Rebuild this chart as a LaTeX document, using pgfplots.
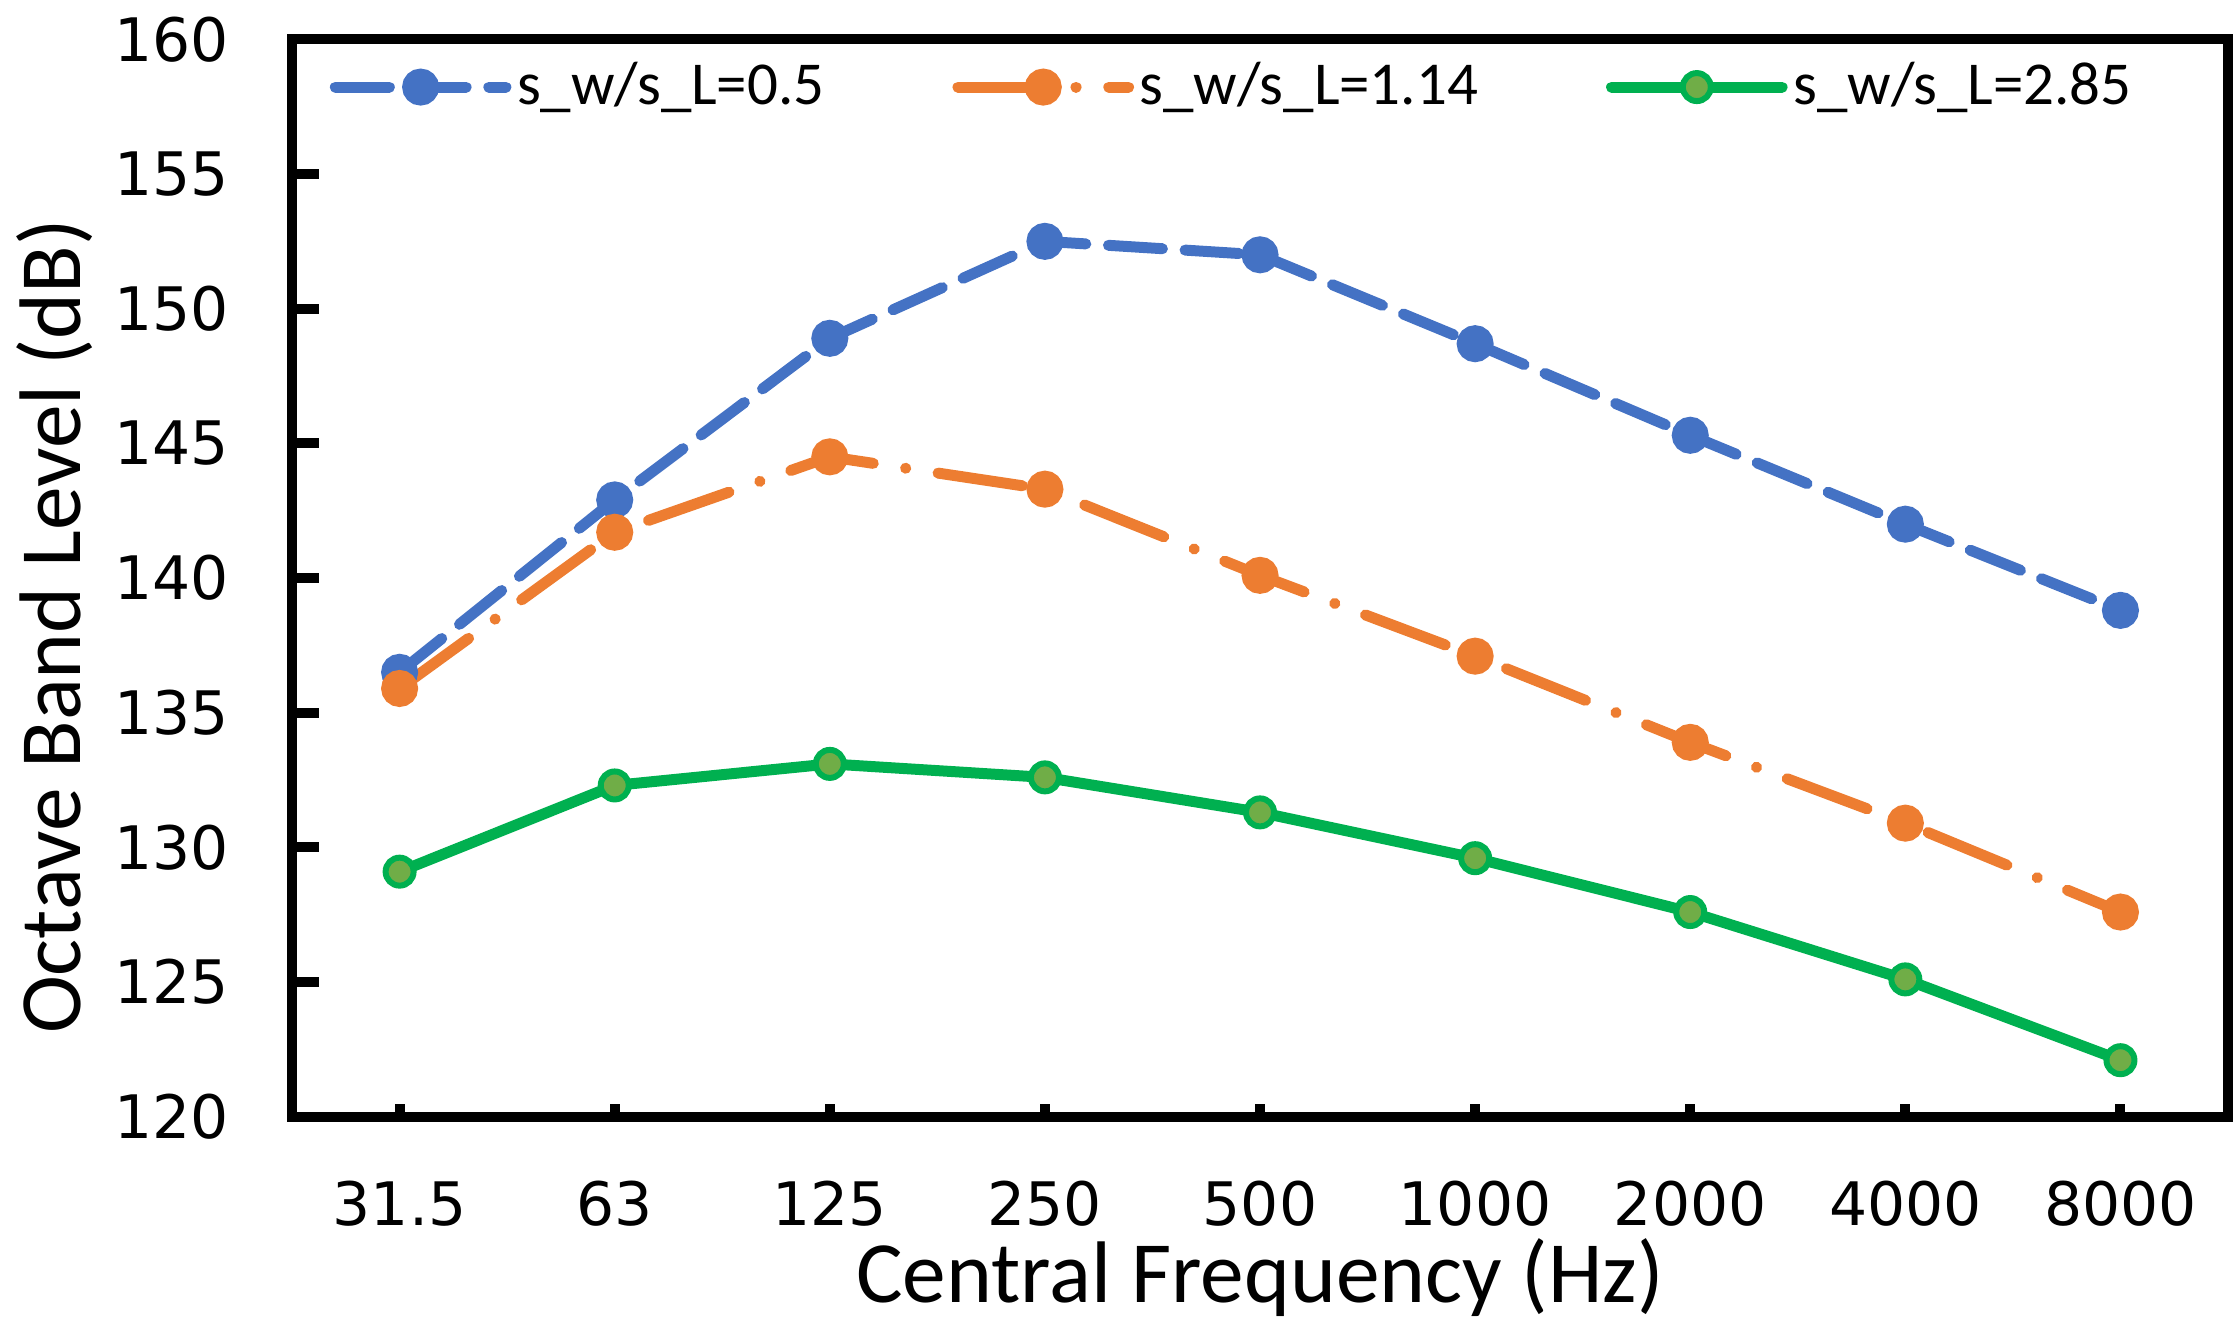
\documentclass[border=0pt]{standalone}
\usepackage{pgfplots}
\pgfplotsset{compat=1.18}
\usepackage{fontspec}
\setmainfont{Carlito}
\newfontfamily\tickfont{DejaVu Sans}
\definecolor{cblue}{HTML}{4472C4}
\definecolor{corange}{HTML}{ED7D31}
\definecolor{cgreen}{HTML}{00B050}
\definecolor{cgfill}{HTML}{70AD47}
\begin{document}
\begin{tikzpicture}
\begin{axis}[
  scale only axis,
  width=136.2mm, height=75.8mm,
  xmin=-0.5, xmax=8.5, ymin=120, ymax=160,
  xtick={0,...,8},
  xticklabels={31.5,63,125,250,500,1000,2000,4000,8000},
  ytick={120,125,...,160},
  /pgf/number format/assume math mode=true,
  ticklabel style={font=\tickfont\fontsize{12}{13}\selectfont},
  xticklabel style={yshift=-3.3mm},
  yticklabel style={xshift=-3.2mm},
  axis line style={line width=2pt},
  tick style={black, line width=2pt},
  tick align=inside,
  major tick length=1.9mm,
  xtick pos=bottom, ytick pos=left,
  xtick style={dash pattern=on 0.9mm off 5mm},
  xlabel={Central Frequency (Hz)},
  ylabel={Octave Band Level (dB)},
  label style={font=\fontsize{17.5}{20}\selectfont},
  xlabel style={at={([yshift=-11.3mm]rel axis cs:0.5,0)}, anchor=center},
  ylabel style={at={([xshift=-16.7mm]rel axis cs:0,0.455)}, anchor=center},
  legend columns=3,
  legend style={at={(rel axis cs:0.019,0.985)}, anchor=north west, draw=none, fill=none,
    font=\fontsize{12.2}{14}\selectfont, inner sep=0pt,
    nodes={inner sep=0.4mm},
    /tikz/every even column/.append style={column sep=8.6mm},
    /tikz/every odd column/.append style={column sep=0mm}},
  legend image code/.code={\draw[mark repeat=2,mark phase=2,#1] plot coordinates {(0mm,0mm)(6mm,0mm)(12mm,0mm)};},
  every axis plot/.append style={line width=2.2pt, line cap=round},
]
\addplot[color=cblue, dash pattern=on 3.8mm off 1.6mm, mark=*, mark size=2.6pt, mark options={solid, fill=cblue}]
  coordinates {(0,136.5)(1,142.9)(2,148.9)(3,152.5)(4,152.0)(5,148.7)(6,145.3)(7,142.0)(8,138.8)};
\addlegendentry{s\_w/s\_L=0.5}
\addplot[color=corange, dash pattern=on 6mm off 2.3mm on 0.01mm off 2.3mm, mark=*, mark size=2.6pt, mark options={solid, fill=corange}]
  coordinates {(0,135.9)(1,141.7)(2,144.5)(3,143.3)(4,140.1)(5,137.1)(6,133.9)(7,130.9)(8,127.6)};
\addlegendentry{s\_w/s\_L=1.14}
\addplot[color=cgreen, mark=*, mark size=2.8pt, mark options={solid, fill=cgfill, line width=1.2pt}]
  coordinates {(0,129.1)(1,132.3)(2,133.1)(3,132.6)(4,131.3)(5,129.6)(6,127.6)(7,125.1)(8,122.1)};
\addlegendentry{s\_w/s\_L=2.85}
\end{axis}
\end{tikzpicture}
\end{document}
